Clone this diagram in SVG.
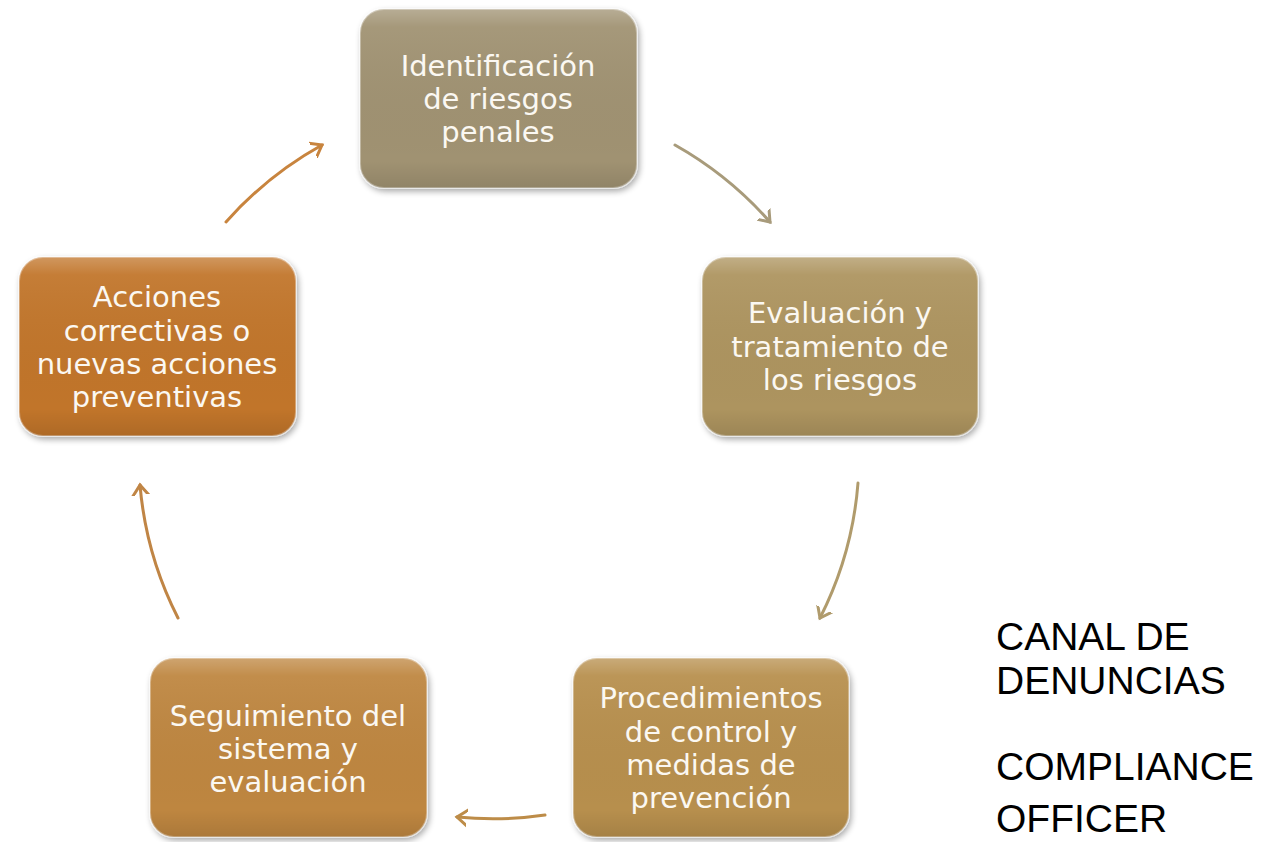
<svg xmlns="http://www.w3.org/2000/svg" width="1263" height="842" viewBox="0 0 1263 842">
<defs>
<style>
.box{stroke:#ffffff;stroke-opacity:0.35;stroke-width:2;filter:url(#sh)}
.lbl{font-family:"DejaVu Sans",sans-serif;font-size:29px;fill:#FBF8F2;text-anchor:middle}
.side{font-family:"Liberation Sans",Arial,sans-serif;font-size:39px;fill:#000000}
.arr{fill:none;stroke-width:3;stroke-linecap:round}
</style>
<filter id="sh" x="-10%" y="-10%" width="125%" height="130%">
<feGaussianBlur in="SourceAlpha" stdDeviation="3"/>
<feOffset dx="2" dy="3" result="b"/>
<feComponentTransfer><feFuncA type="linear" slope="0.35"/></feComponentTransfer>
<feMerge><feMergeNode/><feMergeNode in="SourceGraphic"/></feMerge>
</filter>
<linearGradient id="gloss" x1="0" y1="0" x2="0" y2="1">
<stop offset="0" stop-color="#ffffff" stop-opacity="0.25"/>
<stop offset="0.1" stop-color="#ffffff" stop-opacity="0.06"/>
<stop offset="0.85" stop-color="#000000" stop-opacity="0"/>
<stop offset="1" stop-color="#000000" stop-opacity="0.1"/>
</linearGradient>
<marker id="m1" markerWidth="20" markerHeight="20" refX="10" refY="10" orient="auto" markerUnits="userSpaceOnUse"><path d="M-2,1 L10,10 L-2,19" fill="none" stroke="#A89B7B" stroke-width="3" stroke-linecap="round"/></marker>
<marker id="m2" markerWidth="20" markerHeight="20" refX="10" refY="10" orient="auto" markerUnits="userSpaceOnUse"><path d="M-2,1 L10,10 L-2,19" fill="none" stroke="#B09B6C" stroke-width="3" stroke-linecap="round"/></marker>
<marker id="m3" markerWidth="20" markerHeight="20" refX="10" refY="10" orient="auto" markerUnits="userSpaceOnUse"><path d="M-2,1 L10,10 L-2,19" fill="none" stroke="#BD8C48" stroke-width="3" stroke-linecap="round"/></marker>
<marker id="m4" markerWidth="20" markerHeight="20" refX="10" refY="10" orient="auto" markerUnits="userSpaceOnUse"><path d="M-2,1 L10,10 L-2,19" fill="none" stroke="#C08545" stroke-width="3" stroke-linecap="round"/></marker>
<marker id="m5" markerWidth="20" markerHeight="20" refX="10" refY="10" orient="auto" markerUnits="userSpaceOnUse"><path d="M-2,1 L10,10 L-2,19" fill="none" stroke="#C8843E" stroke-width="3" stroke-linecap="round"/></marker>
</defs>
<rect width="1263" height="842" fill="#ffffff"/>
<g id="connectors">
<path class="arr" stroke="#A89B7B" marker-end="url(#m1)" d="M675,145 A365,365 0 0 1 770,222"/>
<path class="arr" stroke="#B09B6C" marker-end="url(#m2)" d="M858,483 A360,360 0 0 1 820,618"/>
<path class="arr" stroke="#BD8C48" marker-end="url(#m3)" d="M545,815 A360,360 0 0 1 457,817"/>
<path class="arr" stroke="#C08545" marker-end="url(#m4)" d="M178,618 A360,360 0 0 1 140,485"/>
<path class="arr" stroke="#C8843E" marker-end="url(#m5)" d="M226,222 A365,365 0 0 1 322,145"/>
</g>
<g id="n1">
<rect class="box" x="360" y="9" width="277" height="179" rx="24" fill="#A09272"/>
<rect x="360" y="9" width="277" height="179" rx="24" fill="url(#gloss)"/>
<text class="lbl" x="498" y="76">Identificación</text>
<text class="lbl" x="498" y="109">de riesgos</text>
<text class="lbl" x="498" y="142">penales</text>
</g>
<g id="n2">
<rect class="box" x="702" y="257" width="276" height="179" rx="24" fill="#AD945F"/>
<rect x="702" y="257" width="276" height="179" rx="24" fill="url(#gloss)"/>
<text class="lbl" x="840" y="323">Evaluación y</text>
<text class="lbl" x="840" y="357">tratamiento de</text>
<text class="lbl" x="840" y="390">los riesgos</text>
</g>
<g id="n3">
<rect class="box" x="573" y="658" width="276" height="179" rx="24" fill="#B78F4E"/>
<rect x="573" y="658" width="276" height="179" rx="24" fill="url(#gloss)"/>
<text class="lbl" x="711" y="708">Procedimientos</text>
<text class="lbl" x="711" y="742">de control y</text>
<text class="lbl" x="711" y="775">medidas de</text>
<text class="lbl" x="711" y="808">prevención</text>
</g>
<g id="n4">
<rect class="box" x="150" y="658" width="277" height="179" rx="24" fill="#BE8640"/>
<rect x="150" y="658" width="277" height="179" rx="24" fill="url(#gloss)"/>
<text class="lbl" x="288" y="726">Seguimiento del</text>
<text class="lbl" x="288" y="759">sistema y</text>
<text class="lbl" x="288" y="792">evaluación</text>
</g>
<g id="n5">
<rect class="box" x="19" y="257" width="277" height="179" rx="24" fill="#C1752B"/>
<rect x="19" y="257" width="277" height="179" rx="24" fill="url(#gloss)"/>
<text class="lbl" x="157" y="307">Acciones</text>
<text class="lbl" x="157" y="341">correctivas o</text>
<text class="lbl" x="157" y="374">nuevas acciones</text>
<text class="lbl" x="157" y="407">preventivas</text>
</g>
<g id="side">
<text class="side" x="996" y="650">CANAL DE</text>
<text class="side" x="996" y="694">DENUNCIAS</text>
<text class="side" x="996" y="780">COMPLIANCE</text>
<text class="side" x="996" y="832">OFFICER</text>
</g>
</svg>
